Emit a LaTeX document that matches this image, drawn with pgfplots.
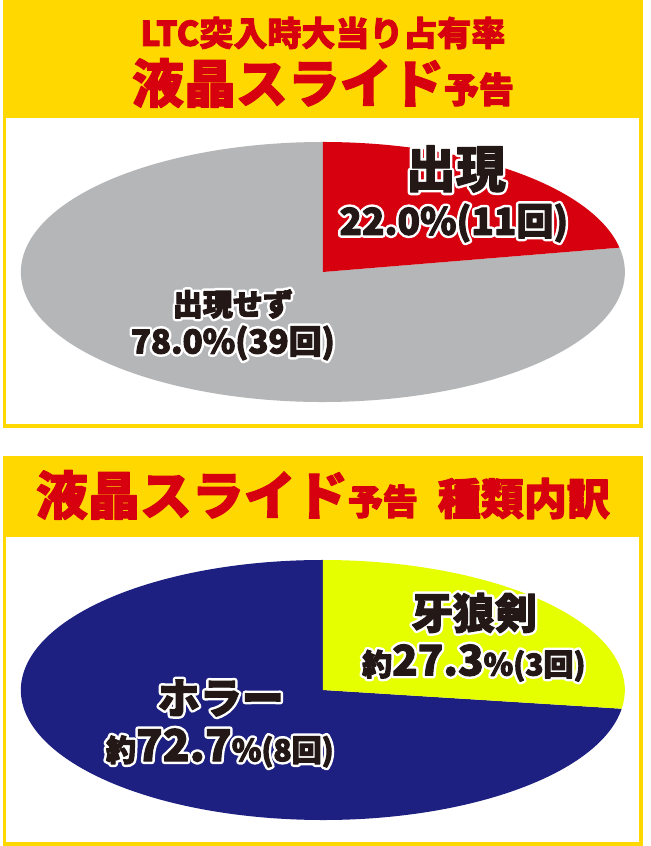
\documentclass[border=0pt]{standalone}
\usepackage{fontspec}
\usepackage{pgfplots}
\usepackage{pgfplotstable}
\pgfplotsset{compat=1.18}
\newfontfamily\jp{Noto Sans CJK JP}

\definecolor{hdr}{HTML}{FFD800}
\definecolor{ttl}{HTML}{D7000F}
\definecolor{hit}{HTML}{D7000F}
\definecolor{miss}{HTML}{B5B6B8}
\definecolor{garo}{HTML}{E6FF00}
\definecolor{horror}{HTML}{1D2080}
\definecolor{ink}{HTML}{231815}

% LTC突入時大当り占有率
\pgfplotstableread{
slice share count
hit   22.0  11
miss  78.0  39
}\pieA
% 種類内訳
\pgfplotstableread{
slice  share count
garo   27.3  3
horror 72.7  8
}\pieB

\newcommand\fs[1]{\fontsize{#1}{#1}\selectfont}
% stroke the glyphs (fill + stroke) with a given line width
\newcommand\heavy[1]{\special{pdf:literal direct 1 j #1 w 2 Tr}}
% white-rimmed label: coordinate, text (stroked copy under a plain one)
\newcommand\outlined[2]{%
  \node[text=white,font=\jp\bfseries,inner sep=0pt] at (#1) {\heavy{6}#2};
  \node[text=ink,font=\jp\bfseries,inner sep=0pt] at (#1) {\heavy{1}#2};
}

\begin{document}
\begin{tikzpicture}
\pgfplotstablegetelem{0}{share}\of\pieA
\pgfmathsetmacro\endA{90-3.6*\pgfplotsretval}
\pgfplotstablegetelem{0}{share}\of\pieB
\pgfmathsetmacro\endB{90-3.6*\pgfplotsretval}

\begin{axis}[
  width=640pt, height=846pt, scale only axis,
  xmin=0, xmax=640, ymin=0, ymax=846,
  hide axis, clip=false,
]
% frames
\fill[hdr] (0,418) rectangle (640,846);
\fill[white] (3.5,422) rectangle (636.5,728);
\fill[hdr] (0,0) rectangle (640,390);
\fill[white] (3.5,3.5) rectangle (636.5,309);

% pie 1
\fill[miss] (320,574) -- ++(\endA:302pt and 130pt)
  arc[start angle=\endA, end angle=-270, x radius=302pt, y radius=130pt] -- cycle;
\fill[hit] (320,574) -- ++(90:302pt and 130pt)
  arc[start angle=90, end angle=\endA, x radius=302pt, y radius=130pt] -- cycle;

% pie 2
\fill[horror] (320,156) -- ++(\endB:302pt and 130pt)
  arc[start angle=\endB, end angle=-270, x radius=302pt, y radius=130pt] -- cycle;
\fill[garo] (320,156) -- ++(90:302pt and 130pt)
  arc[start angle=90, end angle=\endB, x radius=302pt, y radius=130pt] -- cycle;

\coordinate (t1) at (320,813);
\coordinate (t2) at (320,763);
\coordinate (t3) at (320,351);
\coordinate (a1) at (453,677);
\coordinate (a2) at (451,623);
\coordinate (b1) at (230,542);
\coordinate (b2) at (230,503);
\coordinate (c1) at (471,233);
\coordinate (c2) at (471,183);
\coordinate (d1) at (218,148);
\coordinate (d2) at (217,98);
\end{axis}

% titles
\node[text=ttl,font=\jp\bfseries\fs{34}] at (t1) {\heavy{0.8}LTC突入時大当り占有率};
\node[text=ttl,font=\jp\bfseries] at (t2) {\heavy{1.2}\fs{52}液晶スライド\fs{35}予告};
\node[text=ttl,font=\jp\bfseries] at (t3) {\heavy{1.2}\fs{52}液晶スライド\fs{35}予告\hspace{20pt}\fs{43}種類内訳};

% slice labels
\outlined{a1}{\fs{50}出現}
\outlined{a2}{\fs{37}22.0\%(11回)}
\outlined{b1}{\fs{30}出現せず}
\outlined{b2}{\fs{33}78.0\%(39回)}
\outlined{c1}{\fs{42}牙狼剣}
\outlined{c2}{\fs{30}約\fs{42}27.3\fs{30}\%(3回)}
\outlined{d1}{\fs{42}ホラー}
\outlined{d2}{\fs{30}約\fs{44}72.7\fs{30}\%(8回)}
\end{tikzpicture}
\end{document}
